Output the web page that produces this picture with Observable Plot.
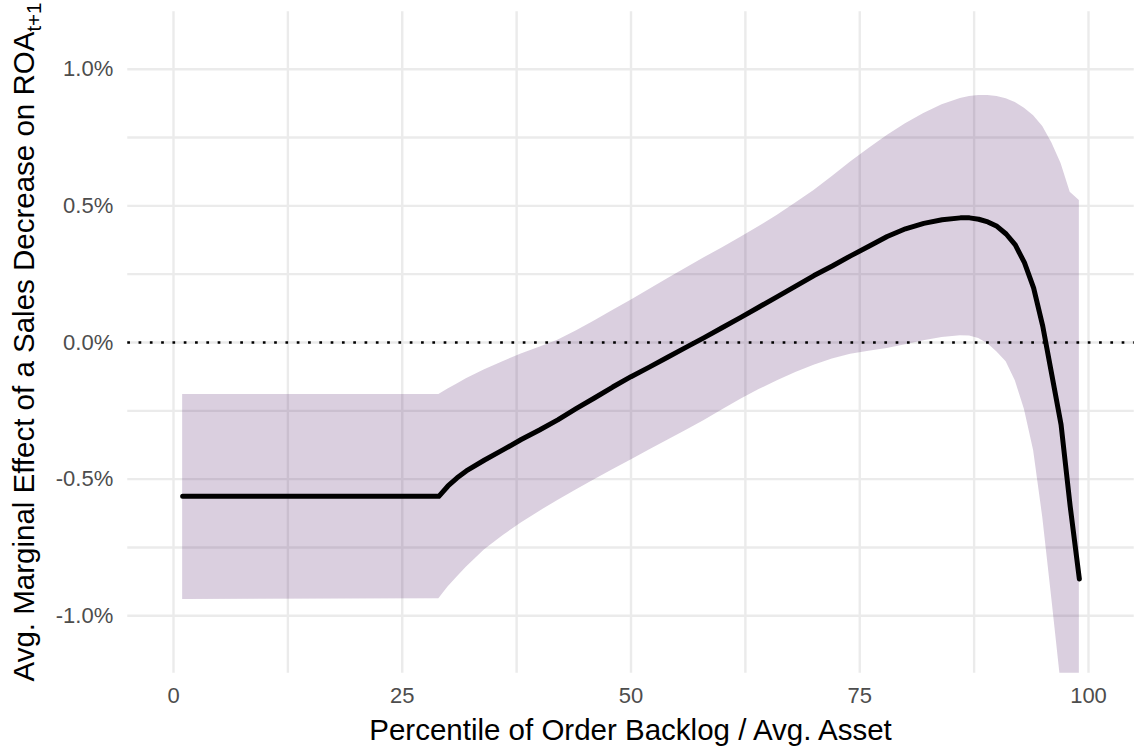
<!DOCTYPE html>
<html><head><meta charset="utf-8">
<script src="https://cdn.jsdelivr.net/npm/d3@7"></script>
<script src="https://cdn.jsdelivr.net/npm/@observablehq/plot@0.6"></script>
<style>body{margin:0;background:#fff}</style>
</head><body><div id="chart"></div>
<script>
// Percentile of Order Backlog / Avg. Asset
const pct = [1, 29, 30, 31, 32, 34, 36, 38, 40, 42, 44, 46, 48, 50, 52, 54, 56, 58, 60, 62, 64, 66, 68, 70, 72, 74, 76, 78, 80, 82, 84, 86, 87, 88, 89, 90, 91, 92, 93, 94, 95, 96, 97, 98, 99];
// Avg. marginal effect (%)
const effect = [-0.563, -0.563, -0.525, -0.495, -0.47, -0.43, -0.393, -0.355, -0.32, -0.283, -0.242, -0.203, -0.163, -0.125, -0.09, -0.054, -0.018, 0.018, 0.055, 0.092, 0.13, 0.168, 0.206, 0.245, 0.28, 0.317, 0.352, 0.388, 0.416, 0.436, 0.449, 0.456, 0.456, 0.451, 0.441, 0.425, 0.397, 0.357, 0.292, 0.2, 0.06, -0.12, -0.3, -0.6, -0.865];
// Confidence band (%)
const lower = [-0.94, -0.938, -0.895, -0.858, -0.822, -0.758, -0.707, -0.66, -0.618, -0.578, -0.54, -0.502, -0.466, -0.43, -0.393, -0.358, -0.322, -0.285, -0.246, -0.208, -0.172, -0.14, -0.11, -0.083, -0.06, -0.043, -0.032, -0.022, -0.008, 0.006, 0.018, 0.025, 0.024, 0.015, -0.005, -0.035, -0.07, -0.14, -0.245, -0.395, -0.64, -0.94, -1.25, -1.7, -2.2];
const upper = [-0.19, -0.19, -0.17, -0.152, -0.133, -0.1, -0.07, -0.042, -0.017, 0.008, 0.042, 0.079, 0.117, 0.155, 0.194, 0.233, 0.272, 0.31, 0.347, 0.385, 0.424, 0.466, 0.51, 0.556, 0.607, 0.66, 0.71, 0.757, 0.8, 0.838, 0.87, 0.893, 0.9, 0.904, 0.904, 0.9, 0.892, 0.878, 0.857, 0.83, 0.79, 0.73, 0.655, 0.55, 0.52];

const xTicks = [0, 25, 50, 75, 100];
const xMinor = [12.5, 37.5, 62.5, 87.5];
const yTicks = [-1, -0.5, 0, 0.5, 1];
const yMinor = [-0.75, -0.25, 0.25, 0.75];
const xTitle = "Percentile of Order Backlog / Avg. Asset";
const yTitle = "Avg. Marginal Effect of a Sales Decrease on ROA";
const ySub = "t+1";

const data = pct.map((p, i) => ({p, effect: effect[i], lower: lower[i], upper: upper[i]}));

const W = 1138, H = 748;
const grid = {stroke: "#ebebeb", strokeWidth: 2.4};
const plot = Plot.plot({
  width: W, height: H,
  marginLeft: 127.25, marginRight: 4.25, marginTop: 11.3, marginBottom: 75.3,
  style: {fontFamily: "'Liberation Sans', Arial, sans-serif", background: "#fff", color: "#4d4d4d", overflow: "visible"},
  x: {domain: [-5, 105]},
  y: {domain: [-1.21, 1.21]},
  marks: [
    Plot.ruleX(xMinor, grid),
    Plot.ruleX(xTicks, grid),
    Plot.ruleY(yMinor, grid),
    Plot.ruleY(yTicks, grid),
    Plot.areaY(data, {x: "p", y1: "lower", y2: "upper", fill: "#470e61", fillOpacity: 0.2, clip: true}),
    Plot.ruleY([0], {stroke: "#000", strokeWidth: 2.7, strokeDasharray: "2.7,8.6"}),
    Plot.line(data, {x: "p", y: "effect", stroke: "#000", strokeWidth: 5, clip: true}),
    Plot.axisX({ticks: xTicks, tickSize: 0, tickPadding: 14, fontSize: 22, label: null}),
    Plot.axisY({ticks: yTicks, tickSize: 0, tickPadding: 14.5, fontSize: 22, label: null, tickFormat: d => d.toFixed(1) + "%"})
  ]
});

const svg = d3.select(plot);
svg.append("text")
  .attr("x", 630.5).attr("y", 740)
  .attr("text-anchor", "middle").attr("font-size", 29.5).attr("fill", "#000")
  .text(xTitle);
const yt = svg.append("text")
  .attr("transform", "translate(34,342) rotate(-90)")
  .attr("text-anchor", "middle").attr("font-size", 29.5).attr("fill", "#000");
yt.append("tspan").text(yTitle);
yt.append("tspan").attr("font-size", 20.5).attr("dy", 7).text(ySub);

document.getElementById("chart").appendChild(plot);
</script>
</body></html>
